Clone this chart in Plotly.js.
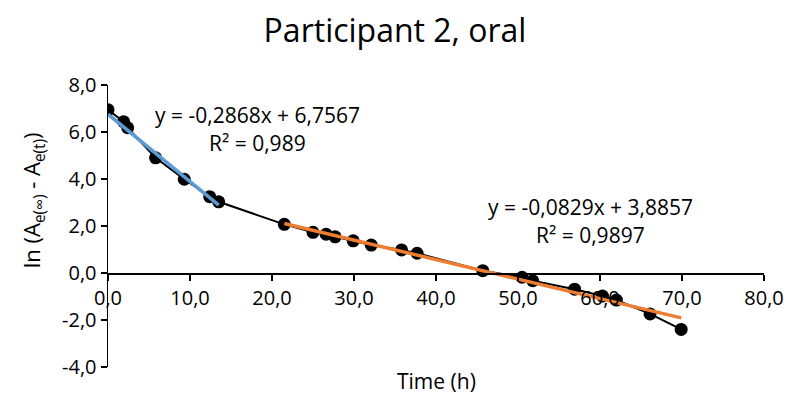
<!DOCTYPE html>
<html>
<head>
<meta charset="utf-8">
<script src="https://cdn.plot.ly/plotly-3.0.1.min.js"></script>
<style>html,body{margin:0;padding:0;background:#fff;}#chart{width:792px;height:404px;}</style>
</head>
<body>
<div id="chart"></div>
<script>
// Measured data (time in hours, ln(Ae(inf) - Ae(t)))
const timeH = [0, 1.9, 2.4, 5.8, 9.3, 12.4, 13.5, 21.5, 25.0, 26.6, 27.7, 29.9, 32.1, 35.8, 37.7, 45.7, 50.5, 51.8, 56.9, 60.3, 62.0, 66.1, 69.9];
const lnValues = [6.95, 6.44, 6.18, 4.90, 3.99, 3.25, 3.03, 2.07, 1.73, 1.65, 1.54, 1.37, 1.19, 0.98, 0.84, 0.10, -0.18, -0.33, -0.69, -0.98, -1.15, -1.74, -2.40];

// Trendline fits shown on the chart
const fit1 = {slope: -0.2868, intercept: 6.7567, xStart: 0, xEnd: 13.5};
const fit2 = {slope: -0.0829, intercept: 3.8857, xStart: 21.5, xEnd: 69.9};
const eq1Lines = ["y = -0,2868x + 6,7567", "R² = 0,989"];
const eq2Lines = ["y = -0,0829x + 3,8857", "R² = 0,9897"];

const xTicks = [0, 10, 20, 30, 40, 50, 60, 70, 80];
const yTicks = [-4, -2, 0, 2, 4, 6, 8];
const fmt = v => v.toFixed(1).replace('.', ',');

const FONT = "'Open Sans', 'Noto Sans', sans-serif";

function lineOf(f) {
  return {x: [f.xStart, f.xEnd], y: [f.slope * f.xStart + f.intercept, f.slope * f.xEnd + f.intercept]};
}
const t1 = lineOf(fit1), t2 = lineOf(fit2);

const traces = [
  {x: timeH, y: lnValues, mode: 'lines+markers', type: 'scatter',
   line: {color: '#000000', width: 2}, marker: {color: '#000000', size: 13}, hoverinfo: 'skip'},
  {x: t1.x, y: t1.y, mode: 'lines', type: 'scatter', line: {color: '#5B9BD5', width: 3.5}, hoverinfo: 'skip'},
  {x: t2.x, y: t2.y, mode: 'lines', type: 'scatter', line: {color: '#ED7D31', width: 3.5}, hoverinfo: 'skip'}
];

const annFont = {family: FONT, size: 21, color: '#000000'};
const layout = {
  width: 792, height: 404,
  margin: {l: 108, r: 28, t: 85, b: 37},
  paper_bgcolor: '#ffffff', plot_bgcolor: '#ffffff',
  showlegend: false,
  font: {family: FONT, color: '#000000', size: 20},
  title: {text: 'Participant 2, oral', font: {family: FONT, size: 32, color: '#000000'},
          x: 395 / 792, xanchor: 'center', xref: 'container', y: 0.925, yanchor: 'middle'},
  xaxis: {range: [0, 80], tickvals: xTicks, ticktext: xTicks.map(fmt),
          showline: true, linecolor: '#000000', linewidth: 1.5,
          ticks: 'outside', ticklen: 6, tickwidth: 1.5, tickcolor: '#000000',
          showgrid: false, zeroline: false,
          anchor: 'free', position: 4 / 12,
          tickfont: {family: FONT, size: 20, color: '#000000'}},
  yaxis: {range: [-4, 8], tickvals: yTicks, ticktext: yTicks.map(fmt),
          showline: true, linecolor: '#000000', linewidth: 1.5,
          ticks: 'outside', ticklen: 6, tickwidth: 1.5, tickcolor: '#000000',
          showgrid: false, zeroline: false,
          tickfont: {family: FONT, size: 20, color: '#000000'}},
  annotations: [
    {text: eq1Lines[0], x: 18.2, y: 6.72, xref: 'x', yref: 'y', showarrow: false, font: annFont, xanchor: 'center', yanchor: 'middle'},
    {text: eq1Lines[1], x: 18.2, y: 5.53, xref: 'x', yref: 'y', showarrow: false, font: annFont, xanchor: 'center', yanchor: 'middle'},
    {text: eq2Lines[0], x: 58.8, y: 2.82, xref: 'x', yref: 'y', showarrow: false, font: annFont, xanchor: 'center', yanchor: 'middle'},
    {text: eq2Lines[1], x: 58.8, y: 1.62, xref: 'x', yref: 'y', showarrow: false, font: annFont, xanchor: 'center', yanchor: 'middle'},
    {text: 'Time (h)', x: 0.5, y: -0.05, xref: 'paper', yref: 'paper', showarrow: false, font: annFont, xanchor: 'center', yanchor: 'middle'},
    {text: 'ln (A<sub>e(∞)</sub> - A<sub>e(t)</sub>)', x: -0.114, y: 0.592, xref: 'paper', yref: 'paper', showarrow: false,
     textangle: -90, font: {family: FONT, size: 22, color: '#000000'}, xanchor: 'center', yanchor: 'middle'}
  ]
};

Plotly.newPlot('chart', traces, layout, {staticPlot: true, displayModeBar: false});
</script>
</body>
</html>
